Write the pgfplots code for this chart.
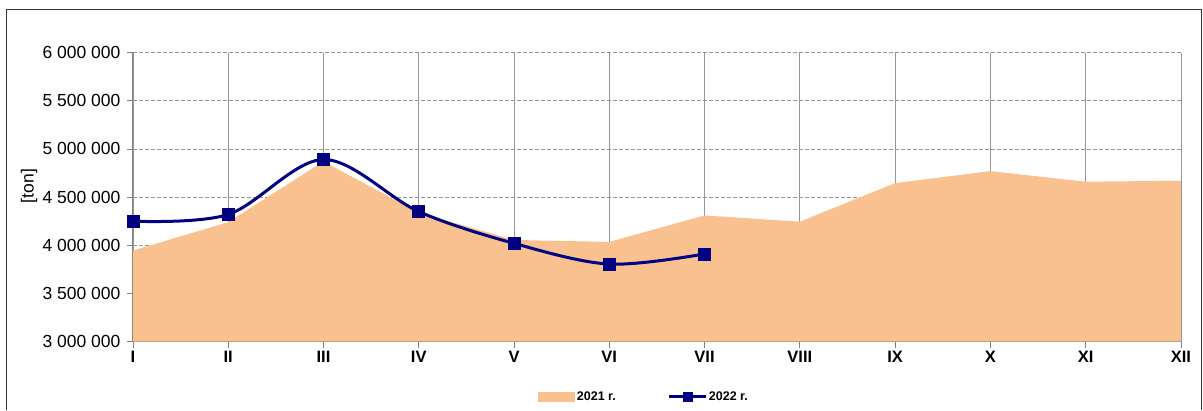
\documentclass[border=0pt]{standalone}
\usepackage{pgfplots}
\pgfplotsset{compat=1.18}
\usepackage{fontspec}
\setmainfont{Liberation Sans}
\definecolor{area21}{RGB}{249,192,144}
\definecolor{navy22}{RGB}{0,0,128}
\definecolor{gridgray}{RGB}{150,150,150}
\definecolor{axbrown}{RGB}{120,90,70}
\pgfplotsset{
  arealeg/.style={legend image code/.code={\fill[area21] (0bp,-5bp) rectangle (37bp,5bp);}},
  lineleg/.style={legend image code/.code={\draw[mark repeat=2,mark phase=2,##1,mark size=4.5bp] plot coordinates {(0bp,0bp) (18.5bp,0bp) (37bp,0bp)};}},
}
\begin{document}
\begin{tikzpicture}[x=1bp,y=1bp]
\path[use as bounding box] (0,0) rectangle (1203,410);
\draw[line width=1.2bp, black!80] (6.5,0) -- (6.5,400.5) -- (1201.5,400.5) -- (1201.5,0);
\begin{axis}[
  at={(139.5,71)}, anchor=south west,
  scale only axis, width=1048bp, height=289bp,
  xmin=0, xmax=11, ymin=3000000, ymax=6000000,
  axis x line*=bottom, axis y line*=left,
  x axis line style={draw=axbrown, line width=1bp},
  y axis line style={draw=gray, line width=1bp},
  xtick={0,...,11},
  xticklabels={I,II,III,IV,V,VI,VII,VIII,IX,X,XI,XII},
  ytick={3000000,3500000,4000000,4500000,5000000,5500000,6000000},
  yticklabels={3 000 000,3 500 000,4 000 000,4 500 000,5 000 000,5 500 000,6 000 000},
  scaled y ticks=false,
  tick align=outside, major tick length=6bp,
  tick style={draw=gray, line width=0.8bp},
  xmajorgrids, ymajorgrids,
  x grid style={draw=gridgray, line width=0.8bp},
  y grid style={draw=gridgray, line width=0.8bp, dash pattern=on 4bp off 2bp},
  yticklabel style={font=\fontsize{17.5bp}{20bp}\selectfont, xshift=-3bp},
  xticklabel style={font=\bfseries\fontsize{16.5bp}{19bp}\selectfont},
  legend columns=2,
  legend style={at={(rel axis cs:0.4876,-0.19)}, anchor=center, draw=none, fill=none,
    font=\bfseries\fontsize{12.5bp}{14bp}\selectfont,
    nodes={inner xsep=1.5bp, inner ysep=1bp},
    /tikz/every even column/.append style={column sep=50bp}},
  legend cell align=left,
]
\addplot[draw=none, fill=area21, arealeg]
  coordinates {(0,3945000) (1,4240000) (2,4870000) (3,4340000) (4,4055000) (5,4035000)
               (6,4310000) (7,4245000) (8,4645000) (9,4770000) (10,4660000) (11,4670000)}
  \closedcycle;
\addlegendentry{2021 r.}
\addplot[navy22, line width=3bp, smooth, tension=0.55, mark=square*, mark size=6bp,
  mark options={solid, fill=navy22, line width=0.5bp}, lineleg]
  coordinates {(0,4250000) (1,4320000) (2,4890000) (3,4350000) (4,4020000) (5,3805000) (6,3910000)};
\addlegendentry{2022 r.}
\end{axis}
\node[rotate=90, font=\fontsize{17.5bp}{20bp}\selectfont] at (29,224) {[ton]};
\end{tikzpicture}
\end{document}
